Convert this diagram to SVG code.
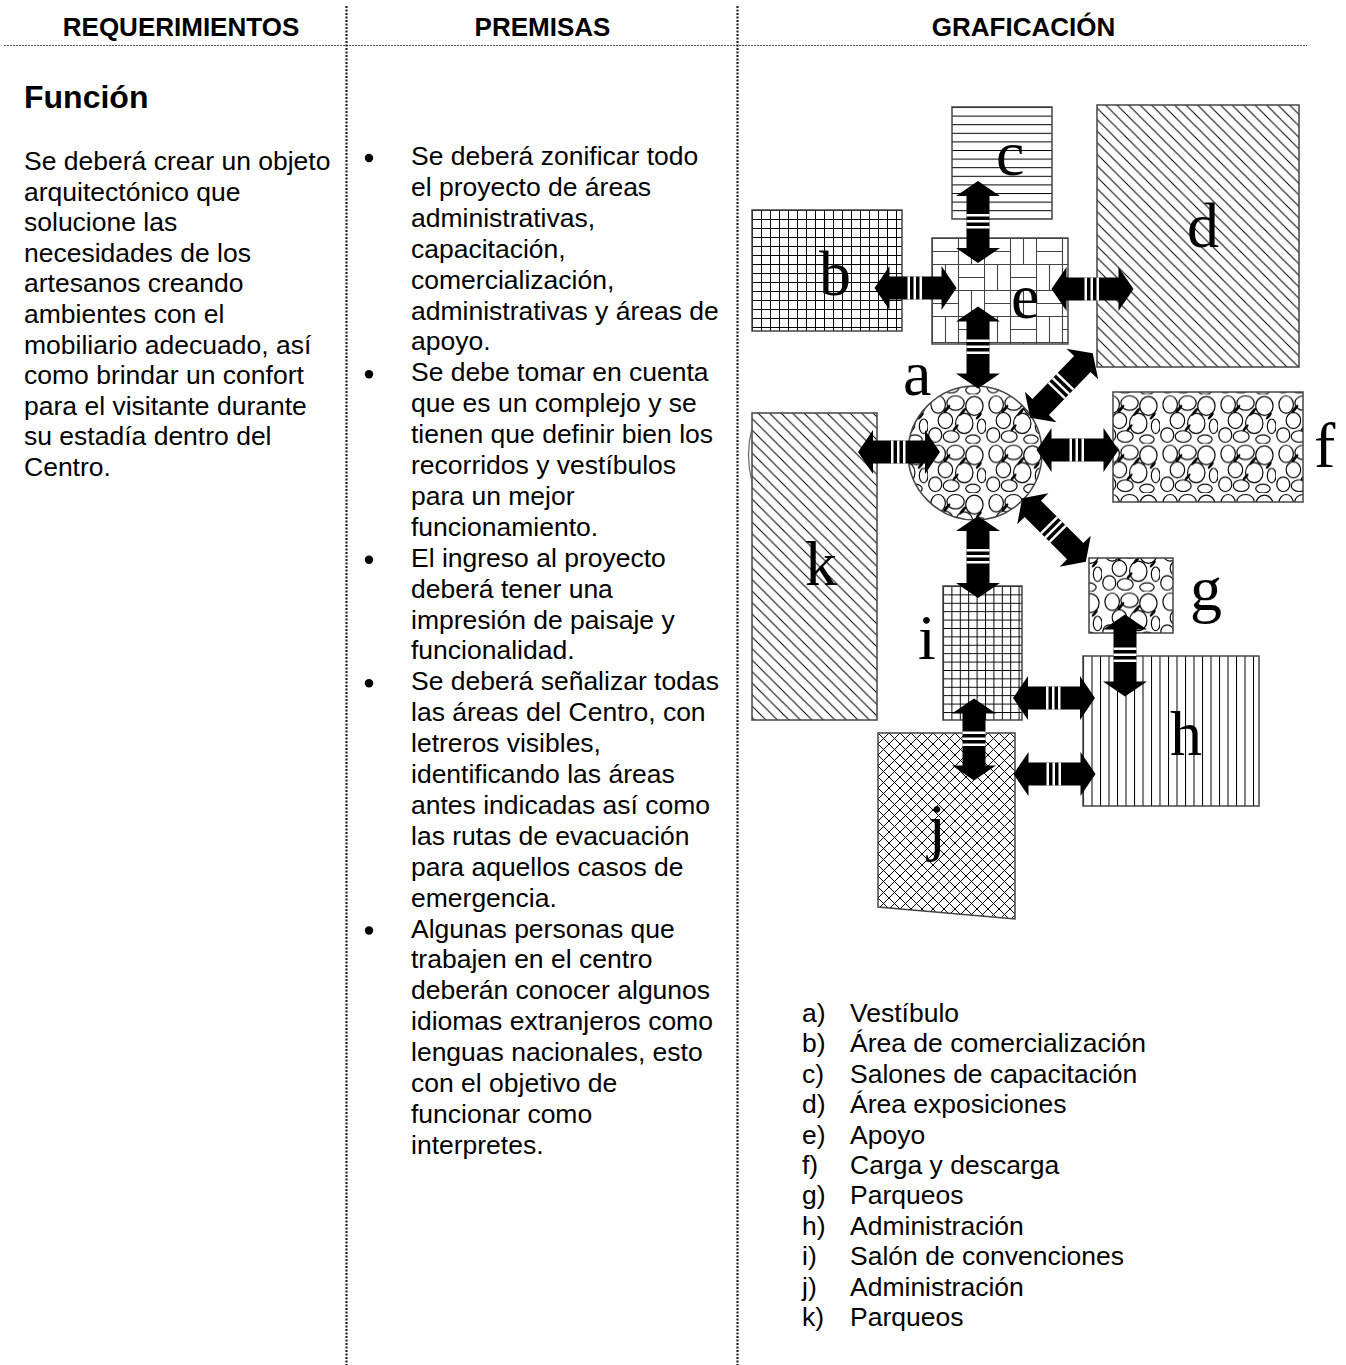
<svg xmlns="http://www.w3.org/2000/svg" xmlns:xlink="http://www.w3.org/1999/xlink" width="1346" height="1365" viewBox="0 0 1346 1365">
<defs>
<style>
.t{font-family:"Liberation Sans",Arial,sans-serif;font-size:26.5px;fill:#000}
.hd{font-family:"Liberation Sans",Arial,sans-serif;font-weight:bold;font-size:26px;text-anchor:middle;fill:#000}
.ttl{font-family:"Liberation Sans",Arial,sans-serif;font-weight:bold;font-size:32px;fill:#000}
.lbl{font-family:"Liberation Serif","Times New Roman",serif;font-size:64px;fill:#000}
.room{stroke:#444;stroke-width:1.5}
.sep{stroke:#222;stroke-width:2.2;stroke-dasharray:2 1.5;fill:none}
.pl{stroke:#000;stroke-width:1;fill:none}
</style>
<pattern id="hl" patternUnits="userSpaceOnUse" x="952" y="107" width="10" height="8.6">
<rect width="10" height="8.6" fill="#fff"/><line class="pl" x1="0" y1="0.5" x2="10" y2="0.5"/>
</pattern>
<pattern id="grid9" patternUnits="userSpaceOnUse" x="752" y="210" width="9" height="9">
<rect width="9" height="9" fill="#fff"/><path class="pl" d="M0.5,0V9M0,0.5H9"/>
</pattern>
<pattern id="grid8" patternUnits="userSpaceOnUse" x="943" y="586" width="8.4" height="8.4">
<rect width="8.4" height="8.4" fill="#fff"/><path class="pl" d="M0.5,0V8.4M0,0.5H8.4"/>
</pattern>
<pattern id="vl" patternUnits="userSpaceOnUse" x="1083" y="656" width="8.5" height="10">
<rect width="8.5" height="10" fill="#fff"/><line class="pl" x1="0.5" y1="0" x2="0.5" y2="10"/>
</pattern>
<pattern id="diag" patternUnits="userSpaceOnUse" width="11.5" height="11.5">
<rect width="11.5" height="11.5" fill="#fff"/><path class="pl" d="M-5.75,-5.75L17.25,17.25M-5.75,5.75L5.75,17.25M5.75,-5.75L17.25,5.75"/>
</pattern>
<pattern id="cross" patternUnits="userSpaceOnUse" x="878" y="733" width="11" height="11">
<rect width="11" height="11" fill="#fff"/><path class="pl" d="M-1,-1L12,12M12,-1L-1,12"/>
</pattern>
<pattern id="weave" patternUnits="userSpaceOnUse" x="932" y="238" width="52" height="52">
<rect width="52" height="52" fill="#fff"/>
<path stroke="#444" stroke-width="1.1" fill="none" d="M0.5,0V52M26.5,0V52M0,0.5H52M0,26.5H52M0,13.5H26M39.5,0V26M13.5,26V52M26,39.5H52"/>
</pattern>
<pattern id="stone" patternUnits="userSpaceOnUse" width="40" height="34" patternTransform="scale(1.45)">
<rect width="40" height="34" fill="#fff"/>
<g stroke="#000" stroke-width="0.8" fill="#fff">
<ellipse cx="7" cy="7" rx="5" ry="6"/>
<ellipse cx="19" cy="6" rx="6" ry="5"/>
<ellipse cx="32" cy="8" rx="6" ry="6.5"/>
<ellipse cx="12" cy="18" rx="5" ry="5.5"/>
<ellipse cx="25" cy="20" rx="6" ry="7"/>
<ellipse cx="37" cy="22" rx="3" ry="5"/>
<ellipse cx="5" cy="28" rx="4.5" ry="5"/>
<ellipse cx="16" cy="29" rx="5.5" ry="4"/>
<ellipse cx="31" cy="31" rx="5" ry="3"/>
</g>
<g fill="#000">
<ellipse cx="13" cy="10" rx="1" ry="3.5" transform="rotate(40 13 10)"/>
<ellipse cx="24" cy="12" rx="1" ry="3.5" transform="rotate(40 24 12)"/>
<ellipse cx="19" cy="23" rx="0.9" ry="3" transform="rotate(40 19 23)"/>
<ellipse cx="35" cy="15" rx="0.9" ry="3" transform="rotate(40 35 15)"/>
</g>
</pattern>
<path id="arr" d="M-41,0L-26,-22L-26,-11.5L26,-11.5L26,-22L41,0L26,22L26,11.5L-26,11.5L-26,22Z" fill="#000"/>
<path id="arrL" d="M-45,0L-30,-22L-30,-11.5L30,-11.5L30,-22L45,0L30,22L30,11.5L-30,11.5L-30,22Z" fill="#000"/>
<g id="st" fill="#fff"><rect x="-8" y="-11.5" width="2.5" height="23"/><rect x="-2" y="-11.5" width="2.5" height="23"/><rect x="4" y="-11.5" width="2.5" height="23"/></g>
</defs>

<rect width="1346" height="1365" fill="#fff"/>

<g id="frame">
<line x1="4" y1="45.5" x2="1307" y2="45.5" stroke="#555" stroke-width="1" stroke-dasharray="2 1"/>
<line class="sep" x1="346.5" y1="6" x2="346.5" y2="1365"/>
<line class="sep" x1="737.5" y1="6" x2="737.5" y2="1365"/>
</g>

<g id="headers">
<text class="hd" x="181" y="36">REQUERIMIENTOS</text>
<text class="hd" x="542.5" y="36">PREMISAS</text>
<text class="hd" x="1023.5" y="36">GRAFICACIÓN</text>
</g>

<g id="requerimientos">
<text class="ttl" x="24" y="108">Función</text>
<text class="t">
<tspan x="24" y="170">Se deberá crear un objeto</tspan>
<tspan x="24" y="200.6">arquitectónico que</tspan>
<tspan x="24" y="231.2">solucione las</tspan>
<tspan x="24" y="261.8">necesidades de los</tspan>
<tspan x="24" y="292.4">artesanos creando</tspan>
<tspan x="24" y="323">ambientes con el</tspan>
<tspan x="24" y="353.6">mobiliario adecuado, así</tspan>
<tspan x="24" y="384.2">como brindar un confort</tspan>
<tspan x="24" y="414.8">para el visitante durante</tspan>
<tspan x="24" y="445.4">su estadía dentro del</tspan>
<tspan x="24" y="476">Centro.</tspan>
</text>
</g>

<g id="premisas">
<g fill="#000">
<circle cx="369" cy="158" r="4.2"/>
<circle cx="369" cy="374.3" r="4.2"/>
<circle cx="369" cy="559.7" r="4.2"/>
<circle cx="369" cy="683.3" r="4.2"/>
<circle cx="369" cy="930.5" r="4.2"/>
</g>
<text class="t">
<tspan x="411" y="165">Se deberá zonificar todo</tspan>
<tspan x="411" y="195.9">el proyecto de áreas</tspan>
<tspan x="411" y="226.8">administrativas,</tspan>
<tspan x="411" y="257.7">capacitación,</tspan>
<tspan x="411" y="288.6">comercialización,</tspan>
<tspan x="411" y="319.5">administrativas y áreas de</tspan>
<tspan x="411" y="350.4">apoyo.</tspan>
<tspan x="411" y="381.3">Se debe tomar en cuenta</tspan>
<tspan x="411" y="412.2">que es un complejo y se</tspan>
<tspan x="411" y="443.1">tienen que definir bien los</tspan>
<tspan x="411" y="474">recorridos y vestíbulos</tspan>
<tspan x="411" y="504.9">para un mejor</tspan>
<tspan x="411" y="535.8">funcionamiento.</tspan>
<tspan x="411" y="566.7">El ingreso al proyecto</tspan>
<tspan x="411" y="597.6">deberá tener una</tspan>
<tspan x="411" y="628.5">impresión de paisaje y</tspan>
<tspan x="411" y="659.4">funcionalidad.</tspan>
<tspan x="411" y="690.3">Se deberá señalizar todas</tspan>
<tspan x="411" y="721.2">las áreas del Centro, con</tspan>
<tspan x="411" y="752.1">letreros visibles,</tspan>
<tspan x="411" y="783">identificando las áreas</tspan>
<tspan x="411" y="813.9">antes indicadas así como</tspan>
<tspan x="411" y="844.8">las rutas de evacuación</tspan>
<tspan x="411" y="875.7">para aquellos casos de</tspan>
<tspan x="411" y="906.6">emergencia.</tspan>
<tspan x="411" y="937.5">Algunas personas que</tspan>
<tspan x="411" y="968.4">trabajen en el centro</tspan>
<tspan x="411" y="999.3">deberán conocer algunos</tspan>
<tspan x="411" y="1030.2">idiomas extranjeros como</tspan>
<tspan x="411" y="1061.1">lenguas nacionales, esto</tspan>
<tspan x="411" y="1092">con el objetivo de</tspan>
<tspan x="411" y="1122.9">funcionar como</tspan>
<tspan x="411" y="1153.8">interpretes.</tspan>
</text>
</g>

<g id="node-c"><rect class="room" x="952" y="107" width="100" height="112" fill="url(#hl)"/></g>
<g id="node-b"><rect class="room" x="752" y="210" width="150" height="121" fill="url(#grid9)"/></g>
<g id="node-e"><rect class="room" x="932" y="238" width="136" height="106" fill="url(#weave)"/></g>
<g id="node-d"><rect class="room" x="1097" y="105" width="202" height="262" fill="url(#diag)"/></g>
<g id="node-a"><circle class="room" cx="975" cy="453" r="67" fill="url(#stone)"/></g>
<g id="node-f"><rect class="room" x="1113" y="392" width="190" height="110" fill="url(#stone)"/></g>
<g id="node-g"><rect class="room" x="1089" y="558" width="84" height="75" fill="url(#stone)"/></g>
<g id="node-k"><rect class="room" x="752" y="413" width="125" height="307" fill="url(#diag)"/><path d="M752,428Q745,455 752,482" fill="none" stroke="#666" stroke-width="1.2"/></g>
<g id="node-i"><rect class="room" x="943" y="586" width="79" height="134" fill="url(#grid8)"/></g>
<g id="node-j"><polygon class="room" points="878,733 1015,733 1015,919 878,907" fill="url(#cross)"/></g>
<g id="node-h"><rect class="room" x="1083" y="656" width="176" height="150" fill="url(#vl)"/></g>

<g id="connectors">
<g transform="translate(915.5,288)"><use href="#arr"/><use href="#st"/></g>
<g transform="translate(978,222) rotate(90)"><use href="#arr"/><use href="#st"/></g>
<g transform="translate(978,347.5) rotate(90)"><use href="#arr"/><use href="#st"/></g>
<g transform="translate(1092.5,289)"><use href="#arr"/><use href="#st"/></g>
<g transform="translate(1061.5,385.5) rotate(-46)"><use href="#arrL"/><use href="#st"/></g>
<g transform="translate(1077.5,450)"><use href="#arr"/><use href="#st"/></g>
<g transform="translate(1054,530) rotate(45)"><use href="#arrL"/><use href="#st"/></g>
<g transform="translate(899,452)"><use href="#arr"/><use href="#st"/></g>
<g transform="translate(978,557) rotate(90)"><use href="#arr"/><use href="#st"/></g>
<g transform="translate(1125,655.5) rotate(90)"><use href="#arr"/><use href="#st"/></g>
<g transform="translate(1054,698)"><use href="#arr"/><use href="#st"/></g>
<g transform="translate(1054.5,774)"><use href="#arr"/><use href="#st"/></g>
<g transform="translate(974,739.5) rotate(90)"><use href="#arr"/><use href="#st"/></g>
</g>

<g id="labels">
<text class="lbl" x="903" y="395">a</text>
<text class="lbl" x="819" y="295">b</text>
<text class="lbl" x="996" y="175">c</text>
<text class="lbl" x="1187" y="247">d</text>
<text class="lbl" x="1011" y="318">e</text>
<text class="lbl" x="1314" y="467">f</text>
<text class="lbl" x="1190" y="610">g</text>
<text class="lbl" x="1170" y="755">h</text>
<text class="lbl" x="918" y="659">i</text>
<text class="lbl" x="928" y="848">j</text>
<text class="lbl" x="805" y="585">k</text>
</g>

<g id="legend">
<text class="t">
<tspan x="802" y="1022">a)</tspan><tspan x="850" y="1022">Vestíbulo</tspan>
<tspan x="802" y="1052.4">b)</tspan><tspan x="850" y="1052.4">Área de comercialización</tspan>
<tspan x="802" y="1082.8">c)</tspan><tspan x="850" y="1082.8">Salones de capacitación</tspan>
<tspan x="802" y="1113.2">d)</tspan><tspan x="850" y="1113.2">Área exposiciones</tspan>
<tspan x="802" y="1143.6">e)</tspan><tspan x="850" y="1143.6">Apoyo</tspan>
<tspan x="802" y="1174">f)</tspan><tspan x="850" y="1174">Carga y descarga</tspan>
<tspan x="802" y="1204.4">g)</tspan><tspan x="850" y="1204.4">Parqueos</tspan>
<tspan x="802" y="1234.8">h)</tspan><tspan x="850" y="1234.8">Administración</tspan>
<tspan x="802" y="1265.2">i)</tspan><tspan x="850" y="1265.2">Salón de convenciones</tspan>
<tspan x="802" y="1295.6">j)</tspan><tspan x="850" y="1295.6">Administración</tspan>
<tspan x="802" y="1326">k)</tspan><tspan x="850" y="1326">Parqueos</tspan>
</text>
</g>
</svg>
